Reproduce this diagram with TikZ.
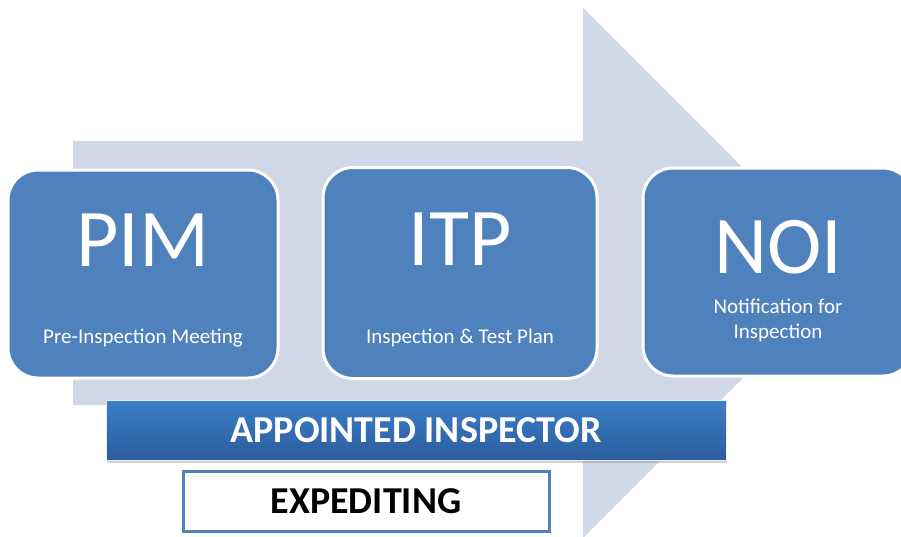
\documentclass[tikz,border=0pt]{standalone}
\usepackage{fontspec}
\setmainfont{Carlito}
\usetikzlibrary{shadows}
\definecolor{stageblue}{RGB}{79,129,189}
\definecolor{arrowgrey}{RGB}{208,216,232}
\definecolor{bartop}{RGB}{60,126,202}
\definecolor{barbottom}{RGB}{44,92,156}
\tikzset{
    stage/.style={draw=white, line width=3pt, fill=stageblue, rounded corners=30pt,
        minimum width=270pt, minimum height=208pt, inner sep=0pt},
    stagetitle/.style={text=white, inner sep=0pt, font=\fontsize{82}{82}\selectfont},
    stagesub/.style={text=white, inner sep=0pt, align=center, font=\fontsize{21}{25}\selectfont},
    rolebar/.style={top color=bartop, bottom color=barbottom, draw=white!85!stageblue, line width=0.8pt,
        minimum width=620pt, minimum height=60pt, text=white, font=\bfseries\fontsize{38}{38}\selectfont,
        drop shadow={opacity=0.35, shadow xshift=1pt, shadow yshift=-3pt}},
    taskbox/.style={draw=stageblue, line width=3pt, fill=white, minimum width=366pt, minimum height=60pt,
        font=\bfseries\fontsize{38}{38}\selectfont}
}
\begin{document}
\begin{tikzpicture}[x=1pt,y=-1pt]
    \useasboundingbox (0,0) rectangle (901,536);
    \clip (0,0) rectangle (901,536);
    % big arrow behind the stages
    \fill[arrowgrey] (73,141) -- (583,141) -- (583,8) -- (848,273) -- (583,538) -- (583,405) -- (73,405) -- cycle;
    % stages
    \node[stage] (pim) at (143,274) {};
    \node[stage, minimum width=274pt, minimum height=211pt] (itp) at (460,273) {};
    \node[stage] (noi) at (778,272) {};
    \node[stagetitle] (pimtitle) at ([yshift=34pt]pim.center) {PIM};
    \node[stagesub] (pimsub) at ([yshift=41pt]pim.south) {Pre-Inspection Meeting};
    \node[stagetitle] (itptitle) at ([yshift=34pt]itp.center) {ITP};
    \node[stagesub] (itpsub) at ([yshift=42pt]itp.south) {Inspection \& Test Plan};
    \node[stagetitle] (noititle) at ([yshift=25pt]noi.center) {NOI};
    \node[stagesub] (noisub) at ([yshift=-48pt]noi.center) {Notification for\\Inspection};
    % bars below
    \node[rolebar] (inspector) at (416,430) {APPOINTED INSPECTOR};
    \node[taskbox] (expediting) at (366,501) {EXPEDITING};
\end{tikzpicture}
\end{document}
